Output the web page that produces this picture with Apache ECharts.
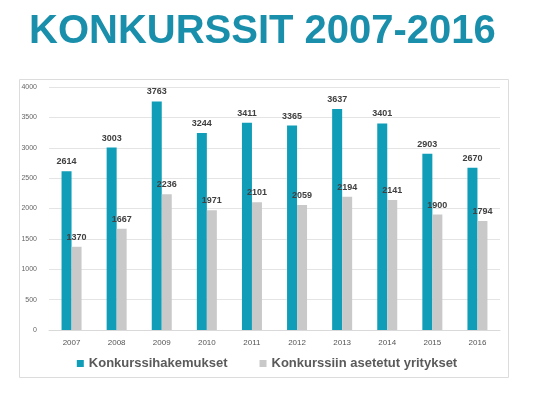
<!DOCTYPE html>
<html>
<head>
<meta charset="utf-8">
<script src="https://cdn.jsdelivr.net/npm/echarts@6/dist/echarts.min.js"></script>
<style>
html,body{margin:0;padding:0;background:#fff;}
#c{width:534px;height:394px;}
</style>
</head>
<body>
<div id="c"></div>
<script>
const titleText = "KONKURSSIT 2007-2016";
const years = ["2007","2008","2009","2010","2011","2012","2013","2014","2015","2016"];
const hakemukset = [2614,3003,3763,3244,3411,3365,3637,3401,2903,2670];
const asetetut = [1370,1667,2236,1971,2101,2059,2194,2141,1900,1794];
const seriesNames = ["Konkurssihakemukset","Konkurssiin asetetut yritykset"];

const chart = echarts.init(document.getElementById('c'), null, {renderer:'canvas'});
const lbl = {show:true,position:'top',distance:5,fontFamily:'Liberation Sans, Arial',fontSize:9,fontWeight:'bold',color:'#404040'};
chart.setOption({
  animation:false,
  backgroundColor:'#fff',
  graphic:[{
    type:'rect', shape:{x:19.5,y:79.5,width:489,height:298},
    style:{fill:'none',stroke:'#dcdcdc',lineWidth:1}, z:-1
  }],
  title:{
    text:titleText, left:24, top:7,
    textStyle:{fontFamily:'Liberation Sans, Arial',fontWeight:'bold',fontSize:40,color:'#1a8fab'}
  },
  legend:{
    bottom:19, left:'center', itemWidth:7, itemHeight:7, itemGap:32, icon:'rect',
    textStyle:{fontFamily:'Liberation Sans, Arial',fontWeight:'bold',fontSize:13,color:'#5a5a5a'},
    data:seriesNames
  },
  grid:{left:49,right:34,top:87,bottom:64,containLabel:false},
  xAxis:{
    type:'category', data:years,
    axisLine:{lineStyle:{color:'#d9d9d9'}},
    axisTick:{show:false},
    axisLabel:{fontFamily:'Liberation Sans, Arial',fontSize:8,color:'#555',margin:9}
  },
  yAxis:{
    type:'value', min:0, max:4000, interval:500,
    axisLine:{show:false}, axisTick:{show:false},
    splitLine:{lineStyle:{color:'#e4e4e4'}},
    axisLabel:{fontFamily:'Liberation Sans, Arial',fontSize:7,color:'#666',margin:12,formatter:function(v){return String(v);}}
  },
  series:[
    {name:seriesNames[0], type:'bar', data:hakemukset, barWidth:10, barGap:'0%',
     itemStyle:{color:'#0f9db8'}, label:lbl},
    {name:seriesNames[1], type:'bar', data:asetetut, barWidth:10,
     itemStyle:{color:'#c9c9c9'}, label:lbl}
  ]
});
</script>
</body>
</html>
